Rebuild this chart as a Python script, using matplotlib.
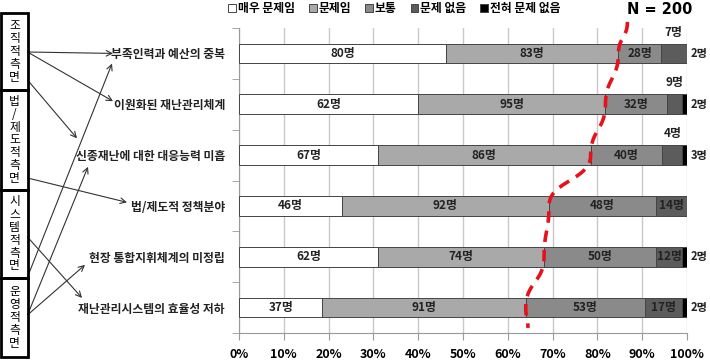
import numpy as np
import matplotlib
matplotlib.use('Agg')
import matplotlib.pyplot as plt
from matplotlib.patches import Rectangle

plt.rcParams['font.family'] = ['Noto Sans CJK KR', 'DejaVu Sans']

# categories (top to bottom)
issues = ['부족인력과 예산의 중복', '이원화된 재난관리체계', '신종재난에 대한 대응능력 미흡',
          '법/제도적 정책분야', '현장 통합지휘체계의 미정립', '재난관리시스템의 효율성 저하']
levels = ['매우 문제임', '문제임', '보통', '문제 없음', '전혀 문제 없음']

# bar widths as drawn in the chart (%)
very_bad = [46.2, 40.0, 31.0, 22.9, 31.0, 18.6]
bad = [38.5, 41.8, 47.5, 46.3, 37.1, 45.4]
normal = [9.4, 13.7, 16.0, 23.9, 25.0, 26.6]
no_problem = [5.9, 3.4, 4.4, 6.9, 5.8, 8.3]
none_at_all = [0.0, 1.1, 1.1, 0.0, 1.1, 1.1]

# counts written on the bars (persons)
n_very_bad = [80, 62, 67, 46, 62, 37]
n_bad = [83, 95, 86, 92, 74, 91]
n_normal = [28, 32, 40, 48, 50, 53]
n_no_problem = [7, 9, 4, 14, 12, 17]
n_none = [2, 2, 3, 0, 2, 2]
label_above = [True, True, True, False, False, False]

xticks = [0, 10, 20, 30, 40, 50, 60, 70, 80, 90, 100]

# left side groups and which issue each one points to
groups = ['조직적 측면', '법/제도적 측면', '시스템적 측면', '운영적 측면']
group_box = [(13, 90), (90, 190), (190, 278), (278, 357)]   # top/bottom in px
# (start y px, target row, row offset, tip x px)
links = [(52, 0, 0.0, 113), (52, 1, -0.06, 113), (80, 2, -0.33, 77),
         (178, 3, -0.07, 127), (237, 5, -0.19, 82),
         (277, 0, 0.2, 112), (315, 2, 0.23, 88), (315, 4, 0.16, 85)]

colors = ['#ffffff', '#a9a9a9', '#8a8a8a', '#5c5c5c', '#000000']
W, H = 710, 361

fig = plt.figure(figsize=(7.1, 3.61), dpi=100)
ax = fig.add_axes([239 / W, 28 / H, 448 / W, 305 / H])

rows = np.arange(len(issues))
series = [very_bad, bad, normal, no_problem, none_at_all]
left = np.zeros(len(issues))
for vals, c, name in zip(series, colors, levels):
    ax.barh(rows, vals, left=left, height=0.39, color=c, edgecolor='#444444',
            linewidth=0.7, label=name, zorder=3)
    left += np.array(vals)

starts = np.cumsum([np.zeros(6)] + [np.array(s) for s in series], axis=0)
counts = [n_very_bad, n_bad, n_normal, n_no_problem]
for k, cnt in enumerate(counts):
    for i in rows:
        xc = (starts[k][i] + starts[k + 1][i]) / 2
        yc = i
        if k == 3 and label_above[i]:
            yc = i - 0.42
        ax.text(xc, yc, f'{cnt[i]}명', ha='center', va='center', fontsize=8.5,
                fontweight='bold', color='#222222', zorder=5)
for i in rows:
    if n_none[i] > 0:
        ax.text(100.8, i, f'{n_none[i]}명', ha='left', va='center', fontsize=8,
                fontweight='bold', color='#222222', clip_on=False)

# red dashed curve through the "problem" boundary
cum = starts[2]
px_ = [cum[0] + 2.0] + list(cum) + [cum[-1] + 0.5]
py_ = [-0.62] + list(rows) + [5.4]
cx, cy = [], []
t = np.linspace(0, 1, 30)
for j in range(len(px_) - 1):
    x0, y0, x1, y1 = px_[j], py_[j], px_[j + 1], py_[j + 1]
    dy = y1 - y0
    p = [(x0, y0), (x0, y0 + 0.5 * dy), (x1, y1 - 0.5 * dy), (x1, y1)]
    bx = ((1 - t) ** 3 * p[0][0] + 3 * (1 - t) ** 2 * t * p[1][0]
          + 3 * (1 - t) * t ** 2 * p[2][0] + t ** 3 * p[3][0])
    by = ((1 - t) ** 3 * p[0][1] + 3 * (1 - t) ** 2 * t * p[1][1]
          + 3 * (1 - t) * t ** 2 * p[2][1] + t ** 3 * p[3][1])
    cx += list(bx)
    cy += list(by)
ax.plot(cx, cy, color='#e8101a', lw=2.6, dashes=(3.2, 2.2), zorder=6, clip_on=False)

ax.set_xlim(0, 100)
ax.set_ylim(5.5, -0.5)
ax.set_xticks(xticks)
ax.set_xticklabels([f'{v}%' for v in xticks], fontsize=9, fontweight='bold')
ax.set_yticks(rows)
ax.set_yticklabels(issues, fontsize=8.5, fontweight='bold', color='#222222')
ax.set_yticks(np.arange(-0.5, 6, 1), minor=True)
ax.tick_params(axis='y', which='major', length=0, pad=10)
ax.tick_params(axis='y', which='minor', length=5, color='#999999', direction='out')
ax.tick_params(axis='x', length=5, color='#999999', direction='out', pad=6)
ax.grid(axis='x', color='#c8c8c8', lw=1, zorder=0)
for s in ['top', 'right']:
    ax.spines[s].set_visible(False)
ax.spines['left'].set_color('#999999')
ax.spines['bottom'].set_color('#999999')

ax.legend(loc='upper left', bbox_to_anchor=(226 / W, 1.0), bbox_transform=fig.transFigure,
          ncol=5, frameon=False, prop={'size': 8.5, 'weight': 'bold'},
          handlelength=0.65, handleheight=0.65, handletextpad=0.15,
          columnspacing=1.2, borderpad=0.1, borderaxespad=0.1)
fig.text(692 / W, 1 - 9 / H, 'N = 200', ha='right', va='center', fontsize=10.5,
         fontweight='bold', family='DejaVu Sans')

# left group boxes
for name, (top, bot) in zip(groups, group_box):
    fig.add_artist(Rectangle((1.5 / W, 1 - bot / H), 26 / W, (bot - top) / H,
                             transform=fig.transFigure, fill=False, lw=2, ec='black'))
    fig.text(14.5 / W, 1 - (top + bot) / 2 / H, '\n'.join(name.replace(' ', '')),
             ha='center', va='center', fontsize=8.5, linespacing=0.98)

for y0, row, off, xt in links:
    ax.annotate('', xy=(xt, row + off), xycoords=('figure pixels', 'data'),
                xytext=(27.5, H - y0), textcoords='figure pixels',
                arrowprops=dict(arrowstyle='->', color='#333333', lw=0.8,
                                shrinkA=0, shrinkB=0), annotation_clip=False)

fig.savefig('out.png', dpi=100)
